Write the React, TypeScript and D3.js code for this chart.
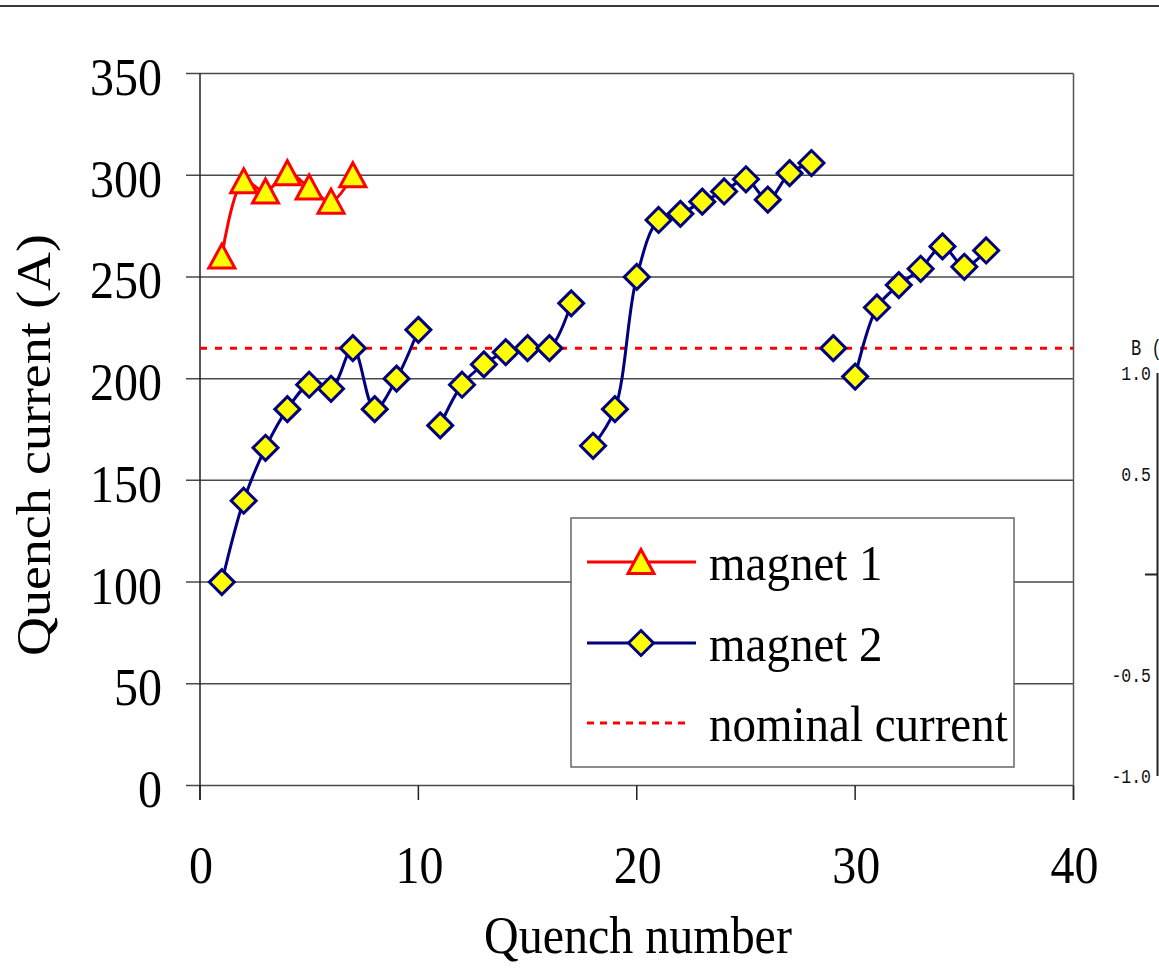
import React from "react";
import * as d3 from "d3";

// ---------- data ----------
const magnet1Quench = [1, 2, 3, 4, 5, 6, 7];
const magnet1Current = [260, 297, 292, 301, 294, 287, 300];

const magnet2Quench = [
  1, 2, 3, 4, 5, 6, 7, 8, 9, 10, 11, 12, 13, 14, 15, 16, 17, 18, 19, 20, 21, 22,
  23, 24, 25, 26, 27, 28, 29, 30, 31, 32, 33, 34, 35, 36,
];
const magnet2Current = [
  100, 140, 166, 185, 197, 195, 215, 185, 200, 224, 177, 197, 207, 213, 215, 215,
  237, 167, 185, 250, 278, 281, 287, 292, 298, 288, 301, 306, 215, 201, 235, 246,
  254, 265, 255, 263,
];
// connected runs of magnet 2 (first and last quench number of each run)
const magnet2Runs: [number, number][] = [
  [1, 10],
  [11, 17],
  [18, 28],
  [29, 29],
  [30, 36],
];
const nominalCurrent = 215;

const xTicks = [0, 10, 20, 30, 40];
const yTicks = [0, 50, 100, 150, 200, 250, 300, 350];
const legendLabels = ["magnet 1", "magnet 2", "nominal current"];
const sideTicks = ["1.0", "0.5", "-0.5", "-1.0"];
const sideTickValues = [1, 0.5, -0.5, -1];

// ---------- layout ----------
const W = 1159;
const H = 976;
const x = d3.scaleLinear().domain([0, 40]).range([200, 1073.5]);
const y = d3.scaleLinear().domain([0, 350]).range([785.5, 73.5]);
const ySide = d3.scaleLinear().domain([-1, 1]).range([776, 373]);

const serif = "'Liberation Serif', 'Times New Roman', Times, serif";
const mono = "'Liberation Mono', 'DejaVu Sans Mono', monospace";
const RED = "#ff0000";
const NAVY = "#000080";
const YELLOW = "#ffff00";

const line = d3
  .line<[number, number]>()
  .x((d) => x(d[0]))
  .y((d) => y(d[1]))
  .curve(d3.curveCatmullRom.alpha(0.5));

const triPath = "M0,-12.5 L13,11.5 L-13,11.5 Z";
const diaPath = "M0,-12.5 L12.5,0 L0,12.5 L-12.5,0 Z";

export default function App() {
  const m1pts: [number, number][] = magnet1Quench.map((q, i) => [q, magnet1Current[i]]);
  const m2pts: [number, number][] = magnet2Quench.map((q, i) => [q, magnet2Current[i]]);
  const runs = magnet2Runs.map(([a, b]) => m2pts.filter((p) => p[0] >= a && p[0] <= b));

  const gridColor = "#4a4a4a";
  const legX0 = 587;
  const legX1 = 696;
  const legMid = 641;
  const legY = [562, 643, 723];

  return (
    <svg
      width={W}
      height={H}
      viewBox={`0 0 ${W} ${H}`}
      style={{ position: "absolute", left: 0, top: 0, background: "#fff" }}
    >
      <rect x={0} y={0} width={W} height={H} fill="#fff" />
      {/* top rule */}
      <line x1={0} x2={W} y1={6} y2={6} stroke="#3a3a3a" strokeWidth={2.2} />

      {/* gridlines + y ticks */}
      {yTicks.map((t) => (
        <line
          key={"g" + t}
          x1={186}
          x2={x(40)}
          y1={y(t)}
          y2={y(t)}
          stroke={gridColor}
          strokeWidth={1.5}
        />
      ))}
      {/* left axis */}
      <line x1={x(0)} x2={x(0)} y1={y(350)} y2={800} stroke="#222" strokeWidth={1.5} />
      {/* right border */}
      <line x1={x(40)} x2={x(40)} y1={y(350)} y2={800} stroke="#555" strokeWidth={1.5} />
      {/* x ticks */}
      {xTicks.map((t) => (
        <line key={"xt" + t} x1={x(t)} x2={x(t)} y1={y(0)} y2={800} stroke="#222" strokeWidth={1.5} />
      ))}

      {/* y tick labels */}
      {yTicks.map((t) => (
        <text
          key={"yl" + t}
          transform={`translate(162,${y(t) + 21.5}) scale(1,1.1)`}
          textAnchor="end"
          fontFamily={serif}
          fontSize={48}
          fill="#000"
        >
          {t}
        </text>
      ))}
      {/* x tick labels */}
      {xTicks.map((t) => (
        <text
          key={"xl" + t}
          transform={`translate(${x(t) + 1},883) scale(1,1.1)`}
          textAnchor="middle"
          fontFamily={serif}
          fontSize={48}
          fill="#000"
        >
          {t}
        </text>
      ))}

      {/* axis titles */}
      <text
        transform="translate(638,953) scale(1,1.1)"
        textAnchor="middle"
        fontFamily={serif}
        fontSize={48}
        fill="#000"
      >
        Quench number
      </text>
      <text
        transform="translate(50,445) scale(1,1.1) rotate(-90)"
        textAnchor="middle"
        fontFamily={serif}
        fontSize={49}
        fill="#000"
      >
        Quench current (A)
      </text>

      {/* nominal current */}
      <line
        x1={x(0)}
        x2={x(40)}
        y1={y(nominalCurrent)}
        y2={y(nominalCurrent)}
        stroke={RED}
        strokeWidth={3}
        strokeDasharray="7,8"
      />

      {/* magnet 2 lines */}
      {runs.map((r, i) =>
        r.length > 1 ? (
          <path key={"r" + i} d={line(r) || ""} fill="none" stroke={NAVY} strokeWidth={3} />
        ) : null
      )}
      {/* magnet 1 line */}
      <path d={line(m1pts) || ""} fill="none" stroke={RED} strokeWidth={3} />

      {/* magnet 2 markers */}
      {m2pts.map((p, i) => (
        <path
          key={"d" + i}
          d={diaPath}
          transform={`translate(${x(p[0])},${y(p[1])})`}
          fill={YELLOW}
          stroke={NAVY}
          strokeWidth={3}
        />
      ))}
      {/* magnet 1 markers */}
      {m1pts.map((p, i) => (
        <path
          key={"t" + i}
          d={triPath}
          transform={`translate(${x(p[0])},${y(p[1])})`}
          fill={YELLOW}
          stroke={RED}
          strokeWidth={3}
        />
      ))}

      {/* legend */}
      <rect x={571} y={518} width={443} height={249} fill="#fff" stroke="#666" strokeWidth={1.5} />
      <line x1={legX0} x2={legX1} y1={legY[0]} y2={legY[0]} stroke={RED} strokeWidth={3} />
      <path d={triPath} transform={`translate(${legMid},${legY[0]})`} fill={YELLOW} stroke={RED} strokeWidth={3} />
      <line x1={legX0} x2={legX1} y1={legY[1]} y2={legY[1]} stroke={NAVY} strokeWidth={3} />
      <path d={diaPath} transform={`translate(${legMid},${legY[1]})`} fill={YELLOW} stroke={NAVY} strokeWidth={3} />
      <line
        x1={legX0}
        x2={690}
        y1={legY[2]}
        y2={legY[2]}
        stroke={RED}
        strokeWidth={3}
        strokeDasharray="7,6"
      />
      {legendLabels.map((l, i) => (
        <text
          key={"lg" + i}
          transform={`translate(709,${legY[i] + 18}) scale(1,1.1)`}
          fontFamily={serif}
          fontSize={47}
          fill="#000"
        >
          {l}
        </text>
      ))}

      {/* neighbouring panel fragment */}
      <text
        transform="translate(1131,355) scale(1,1.25)"
        fontFamily={mono}
        fontSize={17}
        fill="#111"
      >
        B (
      </text>
      <line x1={1157.5} x2={1157.5} y1={ySide(1)} y2={ySide(-1)} stroke="#222" strokeWidth={2} />
      <line x1={1145} x2={1157.5} y1={ySide(0)} y2={ySide(0)} stroke="#222" strokeWidth={2} />
      {sideTicks.map((t, i) => (
        <text
          key={"s" + i}
          transform={`translate(1151,${ySide(sideTickValues[i]) + 7}) scale(1,1.25)`}
          textAnchor="end"
          fontFamily={mono}
          fontSize={16.5}
          fill="#111"
        >
          {t}
        </text>
      ))}
    </svg>
  );
}
